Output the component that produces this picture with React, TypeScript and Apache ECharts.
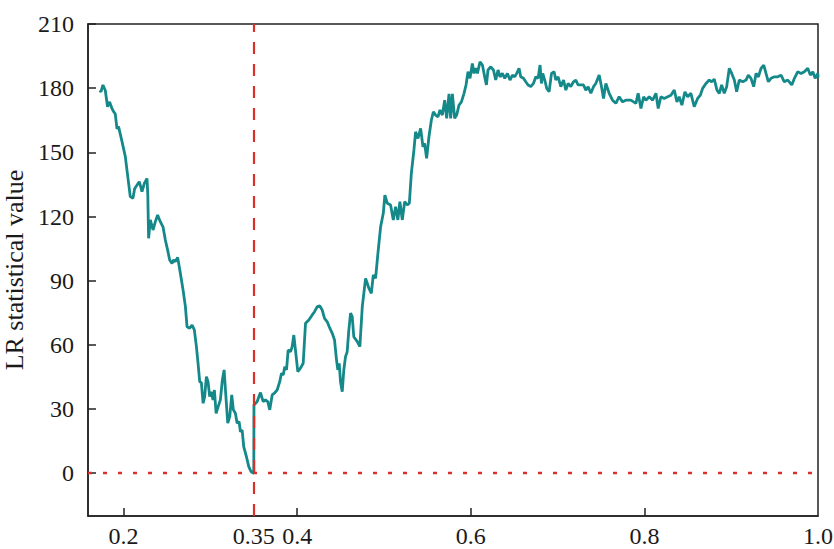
import React, { useEffect, useRef } from "react";
import * as echarts from "echarts";

const xValues: number[] = [
  0.1725, 0.1739, 0.1762, 0.1789, 0.1815, 0.1839, 0.1866, 0.1885, 0.1904, 0.1924, 0.1942, 0.1982,
  0.2020, 0.2039, 0.2058, 0.2077, 0.2108, 0.2127, 0.2155, 0.2181, 0.2212, 0.2239, 0.2270, 0.2279,
  0.2288, 0.2308, 0.2339, 0.2366, 0.2392, 0.2423, 0.2454, 0.2481, 0.2507, 0.2531, 0.2558, 0.2577,
  0.2596, 0.2623, 0.2654, 0.2685, 0.2712, 0.2731, 0.2761, 0.2789, 0.2815, 0.2839, 0.2858, 0.2877,
  0.2896, 0.2916, 0.2934, 0.2954, 0.2973, 0.2992, 0.3008, 0.3031, 0.3046, 0.3066, 0.3084, 0.3115,
  0.3138, 0.3158, 0.3176, 0.3200, 0.3223, 0.3246, 0.3265, 0.3288, 0.3308, 0.3331, 0.3346, 0.3366,
  0.3384, 0.3415, 0.3442, 0.3469, 0.3500, 0.3502, 0.3539, 0.3577, 0.3608, 0.3634, 0.3661, 0.3684,
  0.3712, 0.3738, 0.3769, 0.3799, 0.3819, 0.3839, 0.3857, 0.3877, 0.3896, 0.3923, 0.3942, 0.3961,
  0.3980, 0.4007, 0.4038, 0.4069, 0.4096, 0.4134, 0.4173, 0.4200, 0.4231, 0.4261, 0.4288, 0.4315,
  0.4346, 0.4376, 0.4404, 0.4430, 0.4453, 0.4468, 0.4484, 0.4499, 0.4519, 0.4537, 0.4557, 0.4576,
  0.4595, 0.4615, 0.4634, 0.4652, 0.4692, 0.4722, 0.4750, 0.4788, 0.4826, 0.4854, 0.4877, 0.4903,
  0.4930, 0.4961, 0.4992, 0.5010, 0.5038, 0.5076, 0.5107, 0.5134, 0.5160, 0.5183, 0.5211, 0.5238,
  0.5269, 0.5292, 0.5315, 0.5345, 0.5364, 0.5391, 0.5422, 0.5449, 0.5468, 0.5491, 0.5518, 0.5546,
  0.5569, 0.5595, 0.5622, 0.5645, 0.5672, 0.5699, 0.5722, 0.5749, 0.5768, 0.5788, 0.5814, 0.5837,
  0.5864, 0.5892, 0.5922, 0.5945, 0.5968, 0.5991, 0.6018, 0.6037, 0.6057, 0.6076, 0.6106, 0.6134,
  0.6160, 0.6180, 0.6198, 0.6230, 0.6261, 0.6287, 0.6314, 0.6337, 0.6364, 0.6391, 0.6422, 0.6452,
  0.6480, 0.6506, 0.6529, 0.6556, 0.6575, 0.6607, 0.6633, 0.6660, 0.6691, 0.6722, 0.6749, 0.6775,
  0.6798, 0.6814, 0.6829, 0.6852, 0.6875, 0.6902, 0.6930, 0.6960, 0.6979, 0.7006, 0.7037, 0.7068,
  0.7095, 0.7121, 0.7152, 0.7183, 0.7210, 0.7236, 0.7267, 0.7299, 0.7325, 0.7352, 0.7383, 0.7414,
  0.7440, 0.7479, 0.7506, 0.7529, 0.7556, 0.7594, 0.7633, 0.7671, 0.7709, 0.7748, 0.7787, 0.7844,
  0.7902, 0.7928, 0.7960, 0.7991, 0.8017, 0.8056, 0.8095, 0.8133, 0.8159, 0.8190, 0.8228, 0.8268,
  0.8306, 0.8344, 0.8375, 0.8401, 0.8432, 0.8467, 0.8498, 0.8536, 0.8574, 0.8613, 0.8644, 0.8671,
  0.8709, 0.8747, 0.8775, 0.8805, 0.8836, 0.8863, 0.8890, 0.8920, 0.8948, 0.8978, 0.9006, 0.9036,
  0.9063, 0.9093, 0.9133, 0.9171, 0.9197, 0.9228, 0.9259, 0.9286, 0.9313, 0.9344, 0.9375, 0.9401,
  0.9428, 0.9459, 0.9497, 0.9536, 0.9574, 0.9612, 0.9652, 0.9698, 0.9728, 0.9767, 0.9805, 0.9843,
  0.9882, 0.9912, 0.9940, 0.9967, 0.9998, 1.0
];

const lrValues: number[] = [
  179, 178.3, 181.5, 179, 171.3, 173.6, 170.5, 169, 168, 161, 162, 155,
  148, 141.7, 135.5, 129.3, 128.5, 133, 134.7, 136.3, 131.6, 135.5, 137.8, 130,
  109.8, 118.4, 113.7, 117.6, 120.7, 117.6, 115.2, 109, 104.4, 99.7, 98.1, 99.7,
  98.9, 100.9, 93.5, 85.7, 77.9, 68.5, 67.8, 69.3, 67, 59.2, 51.4, 42.8,
  42.3, 32.7, 35.8, 45.1, 42.8, 35.8, 38.1, 34.3, 38.9, 28, 30.4, 34.3,
  43.6, 48.3, 37.4, 23.4, 26.5, 36.6, 29.6, 28, 23.4, 24.1, 19.4, 20.2,
  12.4, 7.8, 3.1, 0.7, 0, 31.9, 33.5, 37.7, 33.5, 34.3, 33.5, 29.6,
  36.6, 37.4, 38.9, 42.8, 46.7, 45.9, 49.8, 48.3, 57.6, 56.8, 59.2, 64.6,
  57.6, 47.5, 49.1, 51.4, 70.1, 71.6, 74, 75.5, 77.9, 78.2, 76.3, 72.4,
  70.8, 67.8, 65.4, 62.3, 53, 48.3, 51.4, 42.8, 38.1, 48.3, 54.5, 56.8,
  67, 74.8, 73.2, 63.8, 61.5, 59.2, 77.9, 91.1, 86.5, 84.1, 92.7, 91.1,
  102.8, 115.2, 121.5, 130, 126.2, 125.4, 118.4, 124.6, 118.4, 126.9, 118.4, 126.9,
  125.4, 126.2, 140.2, 151.1, 159.6, 156.5, 161.2, 152.6, 154.2, 147.2, 157.3, 165.1,
  169, 167.4, 166.6, 169.8, 167.4, 174.4, 165.9, 177.3, 165.9, 177.3, 165.9, 167.4,
  172.1, 173.6, 177.6, 181.5, 187.7, 184.6, 191.6, 186.9, 189.3, 186.9, 192.3, 190.8,
  185.3, 181.5, 188.5, 190, 188.5, 183.8, 188.5, 185.3, 186.9, 184.6, 186.9, 183.8,
  186.1, 185.3, 186.9, 189.3, 185.3, 184.6, 183, 181.5, 180.7, 182.2, 185.3, 184.6,
  190.8, 182.2, 186.9, 183.8, 179.9, 178.3, 186.9, 187.7, 183.8, 185.3, 180.7, 183.8,
  179.1, 182.2, 180.7, 183, 183.8, 181.5, 181.5, 181.5, 179.1, 180.7, 177.6, 180.7,
  182.2, 186.1, 180.7, 175.2, 182.2, 177.6, 174.4, 172.9, 176, 173.6, 174.4, 174.4,
  172.9, 177.6, 170.5, 176, 174.4, 176, 174.4, 177.6, 170.5, 176, 175.2, 176,
  176.7, 179.1, 173.6, 176, 172.1, 178.3, 176, 177.6, 171.3, 175.2, 176.7, 179.9,
  182.2, 183.8, 183, 184.2, 179.1, 177.6, 181.5, 177.6, 180.7, 189.3, 186.9, 183.8,
  178.3, 183.8, 183, 183.8, 186.1, 184.6, 180.7, 186.9, 185.3, 189.3, 190.8, 186.9,
  183, 184.6, 185.3, 185.3, 186.1, 183, 183.8, 181.5, 184.6, 187.7, 186.9, 187.7,
  189.3, 186.1, 187.7, 184.6, 186.9, 185
];

const xLabelValues: number[] = [0.2, 0.35, 0.4, 0.6, 0.8, 1.0];
const xTickValues: number[] = [0.2, 0.4, 0.6, 0.8];
const yTickValues: number[] = [0, 30, 60, 90, 120, 150, 180, 210];
const breakX = 0.35;
const yAxisName = "LR statistical value";

const FONT = "Liberation Serif";

export default function App() {
  const ref = useRef<HTMLDivElement>(null);
  useEffect(() => {
    if (!ref.current) return;
    const chart = echarts.init(ref.current, null, { renderer: "svg" });
    const data = xValues.map((x, i) => [x, lrValues[i]]);
    chart.setOption({
      animation: false,
      backgroundColor: "#ffffff",
      textStyle: { fontFamily: FONT },
      grid: {
        left: 88,
        right: 16,
        top: 24,
        bottom: 33,
        containLabel: false,
        outerBoundsMode: "none",
        show: true,
        borderColor: "#222222",
        borderWidth: 1.5,
        backgroundColor: "transparent",
      },
      xAxis: {
        type: "value",
        min: 0.159,
        max: 1.0,
        axisLine: { show: true, onZero: false, lineStyle: { color: "#222222", width: 1.5 } },
        axisTick: {
          show: true,
          inside: true,
          length: 8,
          customValues: xTickValues,
          lineStyle: { color: "#222222", width: 1.5 },
        },
        axisLabel: {
          customValues: xLabelValues,
          color: "#1a1a1a",
          fontFamily: FONT,
          fontSize: 24,
          margin: 8,
          formatter: (v: number) => (v === 1 ? "1.0" : String(v)),
        },
        splitLine: { show: false },
      },
      yAxis: {
        type: "value",
        min: -20,
        max: 210,
        name: yAxisName,
        nameLocation: "middle",
        nameGap: 49,
        nameTextStyle: { color: "#1a1a1a", fontFamily: FONT, fontSize: 26 },
        axisLine: { show: true, onZero: false, lineStyle: { color: "#222222", width: 1.5 } },
        axisTick: {
          show: true,
          inside: true,
          length: 8,
          customValues: yTickValues,
          lineStyle: { color: "#222222", width: 1.5 },
        },
        axisLabel: {
          customValues: yTickValues,
          color: "#1a1a1a",
          fontFamily: FONT,
          fontSize: 24,
          margin: 14,
        },
        splitLine: { show: false },
      },
      series: [
        {
          type: "line",
          data,
          symbol: "none",
          lineStyle: { color: "#15898a", width: 2.8 },
          z: 3,
          markLine: {
            silent: true,
            symbol: ["none", "none"],
            label: { show: false },
            z: 4,
            data: [
              {
                xAxis: breakX,
                lineStyle: { color: "#d9302c", width: 2.2, type: [12, 10] },
              },
              {
                yAxis: 0,
                lineStyle: { color: "#d9302c", width: 2.4, type: [4, 11] },
              },
            ],
          },
        },
      ],
    });
    return () => chart.dispose();
  }, []);
  return <div ref={ref} style={{ width: 834, height: 549, position: "absolute", left: 0, top: 0 }} />;
}
